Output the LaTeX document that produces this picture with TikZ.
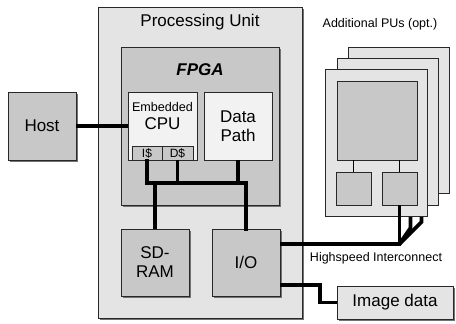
\documentclass[tikz,border=0pt]{standalone}
\usepackage{fontspec}
\setmainfont{Liberation Sans}
\usepackage{tikz}
\usetikzlibrary{shadows,calc}
\definecolor{pulight}{RGB}{228,228,228}
\definecolor{blockgray}{RGB}{200,200,200}
\definecolor{cpuwhite}{RGB}{242,242,242}
\definecolor{edgegray}{RGB}{40,40,40}
\newcommand{\bigfont}{\fontsize{17}{19}\selectfont}

\begin{document}
\begin{tikzpicture}[x=1pt, y=-1pt,
  every node/.style={font=\bigfont, inner sep=0pt},
  box/.style={draw=edgegray, line width=0.8pt, rectangle, align=center},
  shade/.style={drop shadow={shadow xshift=2pt, shadow yshift=-2pt, fill=black!55, opacity=1}},
  bus/.style={line width=3.8pt, black}]
  \useasboundingbox (0,0) rectangle (456,324);

  % processing unit
  \node[box, shade, fill=pulight, minimum width=204pt, minimum height=311pt] (pu) at (200,162.5) {};
  \node (putitle) at (200,22) {Processing Unit};
  \node[box, shade, fill=blockgray, minimum width=158pt, minimum height=158pt] (fpga) at (200,126) {};
  \node[font=\bigfont\bfseries\itshape] (fpgatitle) at (200,70) {FPGA};
  \node[box, fill=cpuwhite, minimum width=69pt, minimum height=68pt] (cpu) at (162.5,126) {};
  \node[align=center] (cputext) at (162.5,116) {{\fontsize{12.6}{14}\selectfont Embedded}\\[-1pt]CPU};
  \node[box, fill=blockgray, minimum width=30pt, minimum height=14pt, font=\fontsize{12}{12}\selectfont] (icache) at (147,153) {I\$};
  \node[box, fill=blockgray, minimum width=31pt, minimum height=14pt, font=\fontsize{12}{12}\selectfont] (dcache) at (177.5,153) {D\$};
  \node[box, fill=cpuwhite, minimum width=68pt, minimum height=68pt] (dp) at (238,126) {Data\\Path};
  \node[box, shade, fill=blockgray, minimum width=68pt, minimum height=67pt] (sdram) at (155,262.5) {SD-\\RAM};
  \node[box, shade, fill=blockgray, minimum width=68pt, minimum height=67pt] (io) at (246,262.5) {I/O};

  % outside
  \node[box, shade, fill=blockgray, minimum width=68pt, minimum height=68pt] (host) at (42,126) {Host};
  \node[box, shade, fill=pulight, minimum width=116pt, minimum height=33pt] (img) at (395,302.5) {Image data};

  % internal bus
  \coordinate (busl) at (147,183);
  \coordinate (busr) at (246,183);
  \draw[bus] (host.east) -- (cpu.west);
  \draw[bus, line cap=rect] (icache.south) -- (icache.south |- busl) -- (busr) -- (io.north);
  \draw[bus] (dcache.south) -- (dcache.south |- busl);
  \draw[bus] (dp.south) -- (dp.south |- busl);
  \draw[bus] (sdram.north) -- (sdram.north |- busl);

  % additional PUs
  \coordinate (hsic) at (399.5,244);
  \node[box, fill=pulight, minimum width=101pt, minimum height=146pt] (backpu) at (398.5,120) {};
  \draw[bus] (backpu.south -| 421.5,0) -- (421.5,222) -- (hsic);
  \node[box, fill=pulight, minimum width=101pt, minimum height=147pt] (midpu) at (387.5,131.5) {};
  \draw[bus] (midpu.south -| 410.5,0) -- (410.5,228) -- (hsic);
  \node[box, fill=pulight, minimum width=102pt, minimum height=147pt] (frontpu) at (376,142.5) {};
  \node[box, fill=blockgray, minimum width=80pt, minimum height=79pt] (pucore) at (377,120.5) {};
  \node[box, fill=blockgray, minimum width=35pt, minimum height=33pt] (smalll) at (353.5,188.5) {};
  \node[box, fill=blockgray, minimum width=35pt, minimum height=33pt] (smallr) at (399.5,188.5) {};
  \draw[line width=1.6pt] (pucore.south -| smalll.north) -- (smalll.north);
  \draw[line width=1.6pt] (pucore.south -| smallr.north) -- (smallr.north);
  \node[font=\fontsize{12.5}{14}\selectfont] (addlabel) at (380,24) {Additional PUs (opt.)};

  % interconnect and image data
  \coordinate (imgbend) at (320,285);
  \draw[bus] (io.east |- hsic) -- (hsic) -- (smallr.south);
  \draw[bus] (io.east |- imgbend) -- (imgbend) |- (img.west);
  \node[font=\fontsize{12.5}{14}\selectfont] (hsiclabel) at (376,258) {Highspeed Interconnect};
\end{tikzpicture}
\end{document}
